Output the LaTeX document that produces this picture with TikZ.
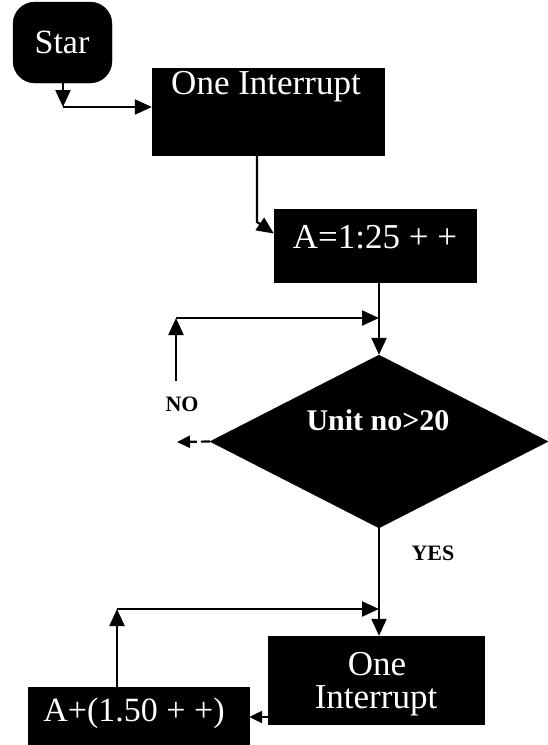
\documentclass[tikz,border=0pt]{standalone}
\usepackage{fontspec}
\setmainfont{Liberation Serif}
\usetikzlibrary{arrows.meta,shapes.geometric}
\begin{document}
\begin{tikzpicture}[x=1pt,y=-1pt,
  blk/.style={draw=black,fill=black,inner sep=0pt,rectangle},
  wtxt/.style={text=white,inner sep=0pt,font=\fontsize{35}{40}\selectfont},
  lbl/.style={inner sep=0pt,font=\bfseries\fontsize{22}{24}\selectfont},
  flow/.style={line width=2.2pt,-{Triangle[length=17pt,width=15pt]}},
  smallflow/.style={line width=2.2pt,-{Triangle[length=13pt,width=12pt]}}]
\useasboundingbox[fill=white] (0,0) rectangle (548,745);

% blocks
\node[blk, rounded corners=22pt, minimum width=99pt, minimum height=81pt] (start) at (62.5,42.5) {};
\node[wtxt, font=\fontsize{34}{40}\selectfont] (tstart) at (62,42) {Star};

\node[blk, minimum width=232pt, minimum height=87pt] (one1) at (268,111.5) {};
\node[wtxt] (tone1) at (266,87) {One Interrupt};

\node[blk, minimum width=202pt, minimum height=73pt] (aset) at (375,245.5) {};
\node[wtxt] (taset) at (375,237) {A=1:25 + +};

\node[draw=black, fill=black, diamond, aspect=2, inner sep=0pt,
      minimum width=338pt, minimum height=173pt] (test) at (379,441.5) {};
\node[wtxt, font=\bfseries\fontsize{30}{34}\selectfont] (ttest) at (378,420) {Unit no>20};

\node[blk, minimum width=216pt, minimum height=88pt] (one2) at (376,680) {};
\node[wtxt] (tone2a) at (377,664) {One};
\node[wtxt] (tone2b) at (376,701) {Interrupt};

\node[blk, minimum width=221pt, minimum height=60pt] (aplus) at (138.5,717) {};
\node[wtxt, font=\fontsize{34}{40}\selectfont] (taplus) at (134,713) {A+(1.50 + +)};

% labels
\node[lbl] (lno) at (182,404) {NO};
\node[lbl] (lyes) at (433,553) {YES};

% helper points
\coordinate (c1) at (63,107);
\coordinate (c2) at (257,222);
\coordinate (n0) at (176,381);
\coordinate (n1) at (176,318);
\coordinate (m1) at (379,318);
\coordinate (n2) at (177,442);
\coordinate (n3) at (117,609);
\coordinate (m2) at (379,609);

% connectors
\draw[flow] (start.south -| c1) -- (c1);
\draw[flow] (c1) -- (c1 -| one1.west);
\draw[flow] ([xshift=-11pt]one1.south) -- (c2) -- ([yshift=12pt]aset.west);
\draw[flow] (aset.south -| test.north) -- (test.north);
\draw[flow] (n0) -- (n1);
\draw[flow] (n1) -- (m1);
\draw[smallflow, dash pattern=on 9pt off 4pt] (test.west) -- (n2);
\draw[flow] (test.south) -- (test.south |- one2.north);
\draw[flow] (aplus.north -| n3) -- (n3);
\draw[flow] (n3) -- (m2);
\draw[smallflow] (one2.west |- aplus.east) -- (aplus.east);
\end{tikzpicture}
\end{document}
